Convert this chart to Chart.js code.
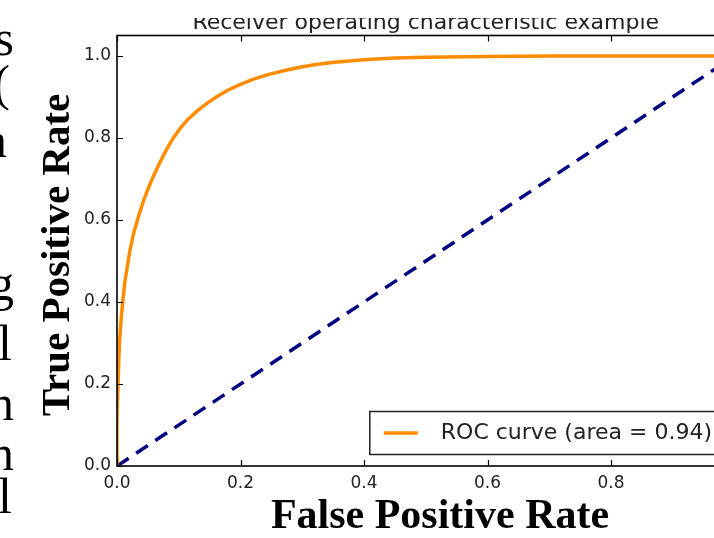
<!DOCTYPE html>
<html>
<head>
<meta charset="utf-8">
<script src="https://cdn.jsdelivr.net/npm/chart.js@4.4.1/dist/chart.umd.min.js"></script>
<style>
  html, body { margin: 0; padding: 0; background: #fff; overflow: hidden; }
  body { width: 714px; height: 538px; position: relative; }
  #wrap { position: absolute; left: 0; top: 0; width: 760px; height: 538px; }
  .frag { position: absolute; font: 50px "Liberation Serif", serif; line-height: 1; color: #000; transform: translateX(-100%); white-space: pre; }
</style>
</head>
<body>
<div id="wrap"><canvas id="rocChart" width="760" height="538"></canvas></div>
<div id="frags"></div>
<script>
// ROC curve
const fpr = [0, 0, 0.002, 0.004, 0.007, 0.01, 0.013, 0.021, 0.0265, 0.035, 0.043, 0.05, 0.059,
  0.07, 0.081, 0.09, 0.102, 0.115, 0.13, 0.145, 0.162, 0.18, 0.2, 0.22, 0.243, 0.27, 0.298,
  0.325, 0.352, 0.4, 0.45, 0.5, 0.6, 0.7, 0.8, 0.9, 1.0];
const tpr = [0, 0.12, 0.22, 0.3, 0.365, 0.41, 0.452, 0.526, 0.565, 0.61, 0.647, 0.675, 0.707,
  0.742, 0.774, 0.797, 0.823, 0.846, 0.866, 0.884, 0.901, 0.917, 0.931, 0.943, 0.954, 0.964, 0.973,
  0.98, 0.985, 0.991, 0.995, 0.997, 0.999, 1.0, 1.0, 1.0, 1.0];
const chanceX = [0, 1];
const chanceY = [0, 1];
const xTicks = [0, 0.2, 0.4, 0.6, 0.8, 1.0];
const yTicks = [0, 0.2, 0.4, 0.6, 0.8, 1.0];

const chartTitle = "Receiver operating characteristic example";
const xLabel = "False Positive Rate";
const yLabel = "True Positive Rate";
const rocLabel = "ROC curve (area = 0.94)";

// bits of the neighbouring paper column, cut at the left edge
const fragChars = ["s", "(", "a", "g", "l", "n", "n", "l"];
const fragRight = [14, 10, 7, 14, 12, 14, 14, 12];
const fragBase = [55, 100, 157, 300, 360, 420, 470, 513];

fragChars.forEach((c, i) => {
  const d = document.createElement("div");
  d.className = "frag";
  d.textContent = c;
  d.style.left = fragRight[i] + "px";
  d.style.top = (fragBase[i] - 42) + "px";
  document.getElementById("frags").appendChild(d);
});

// frame, inward ticks, labels, legend
const decorPlugin = {
  id: "decor",
  afterDraw(chart) {
    const ctx = chart.ctx;
    const ca = chart.chartArea;
    const xs = chart.scales.x;
    const ys = chart.scales.y;

    ctx.save();
    // inward ticks on all four sides
    ctx.strokeStyle = "#000";
    ctx.lineWidth = 1.2;
    ctx.beginPath();
    xTicks.forEach((v) => {
      const px = Math.round(xs.getPixelForValue(v)) + 0.5;
      ctx.moveTo(px, ca.bottom); ctx.lineTo(px, ca.bottom - 6);
      ctx.moveTo(px, ca.top); ctx.lineTo(px, ca.top + 6);
    });
    yTicks.forEach((v) => {
      const py = Math.round(ys.getPixelForValue(v)) + 0.5;
      ctx.moveTo(ca.left, py); ctx.lineTo(ca.left + 6, py);
      ctx.moveTo(ca.right, py); ctx.lineTo(ca.right - 6, py);
    });
    ctx.stroke();

    // frame
    ctx.lineWidth = 1.6;
    ctx.strokeRect(ca.left, ca.top, ca.right - ca.left, ca.bottom - ca.top);

    // legend, lower right
    ctx.font = "22px 'DejaVu Sans'";
    const tw = ctx.measureText(rocLabel).width;
    const boxR = ca.right - 11;
    const boxB = ca.bottom - 11.5;
    const boxH = 43;
    const boxL = boxR - (71 + tw + 11.5);
    ctx.fillStyle = "#fff";
    ctx.fillRect(boxL, boxB - boxH, boxR - boxL, boxH);
    ctx.lineWidth = 1.5;
    ctx.strokeStyle = "#222";
    ctx.strokeRect(boxL, boxB - boxH, boxR - boxL, boxH);
    const midY = boxB - boxH / 2;
    ctx.strokeStyle = "#ff8c00";
    ctx.lineWidth = 3.5;
    ctx.beginPath();
    ctx.moveTo(boxL + 14, midY); ctx.lineTo(boxL + 48, midY);
    ctx.stroke();
    ctx.fillStyle = "#222";
    ctx.textAlign = "left";
    ctx.textBaseline = "middle";
    ctx.fillText(rocLabel, boxL + 71, midY);

    // title (its top is cut off in the source)
    ctx.font = "22px 'DejaVu Sans'";
    ctx.textAlign = "center";
    ctx.textBaseline = "alphabetic";
    ctx.fillStyle = "#222";
    ctx.fillText(chartTitle, (ca.left + ca.right) / 2, 29);
    ctx.fillStyle = "#fff";
    ctx.fillRect(150, 0, 560, 18);

    // axis labels
    ctx.fillStyle = "#000";
    ctx.font = "bold 42px 'Liberation Serif'";
    ctx.textBaseline = "middle";
    ctx.fillText(xLabel, 440, 517);
    ctx.translate(58, 255);
    ctx.rotate(-Math.PI / 2);
    ctx.font = "bold 41px 'Liberation Serif'";
    ctx.fillText(yLabel, 0, 0);
    ctx.restore();
  },
};

const ctx = document.getElementById("rocChart").getContext("2d");
new Chart(ctx, {
  type: "scatter",
  data: {
    datasets: [
      {
        label: rocLabel,
        data: fpr.map((x, i) => ({ x: x, y: tpr[i] })),
        showLine: true,
        borderColor: "#ff8c00",
        borderWidth: 3.5,
        pointRadius: 0,
        tension: 0,
      },
      {
        label: "chance",
        data: chanceX.map((x, i) => ({ x: x, y: chanceY[i] })),
        showLine: true,
        borderColor: "#000080",
        borderWidth: 3.5,
        borderDash: [14, 9],
        pointRadius: 0,
      },
    ],
  },
  options: {
    responsive: false,
    animation: false,
    devicePixelRatio: 1,
    layout: { padding: { top: 35.5, right: 25.5, left: 0, bottom: 0 } },
    plugins: {
      legend: { display: false },
      title: { display: false },
      tooltip: { enabled: false },
    },
    scales: {
      x: {
        type: "linear",
        min: 0,
        max: 1,
        afterFit: (s) => { s.height = 72; },
        afterBuildTicks: (s) => { s.ticks = xTicks.map((v) => ({ value: v })); },
        grid: { display: false, drawTicks: false },
        border: { display: false },
        ticks: {
          padding: 7,
          color: "#222",
          font: { family: "DejaVu Sans", size: 17 },
          maxRotation: 0,
          callback: (v) => v.toFixed(1),
        },
      },
      y: {
        type: "linear",
        min: 0,
        max: 1.05,
        afterFit: (s) => { s.width = 117; },
        afterBuildTicks: (s) => { s.ticks = yTicks.map((v) => ({ value: v })); },
        grid: { display: false, drawTicks: false },
        border: { display: false },
        ticks: {
          padding: 6,
          color: "#222",
          font: { family: "DejaVu Sans", size: 17 },
          callback: (v) => v.toFixed(1),
        },
      },
    },
  },
  plugins: [decorPlugin],
});
</script>
</body>
</html>
